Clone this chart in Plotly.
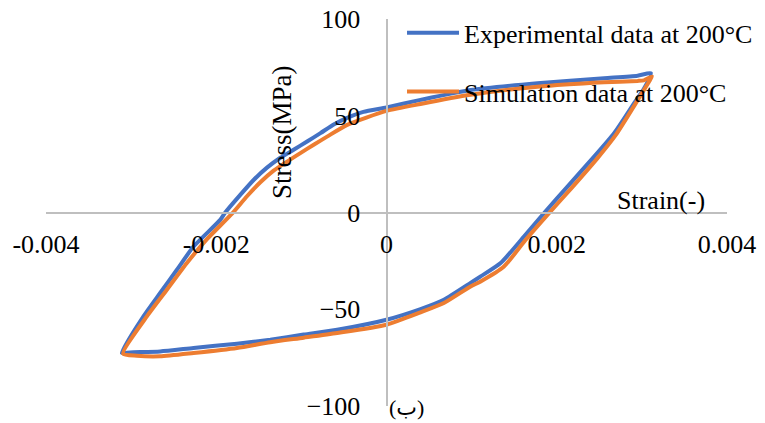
import plotly.graph_objects as go

# experimental loop (strain, stress MPa) - traced clockwise from min corner
exp_strain = [-0.003109, -0.002855, -0.002659, -0.002462, -0.002267, -0.001953, -0.001894,
              -0.001718, -0.001561, -0.001404, -0.001247, -0.001091, -0.000933, -0.000776,
              -0.000620, -0.000462, -0.000271, 0.0, 0.000400, 0.000988, 0.001773,
              0.002556, 0.002949, 0.003106,
              0.003027, 0.002909, 0.002674, 0.002439, 0.002126, 0.001851, 0.001615,
              0.001341, 0.001106, 0.000988, 0.000674, 0.000400, 0.0, -0.000580,
              -0.000973, -0.001365, -0.001756, -0.002267, -0.002659, -0.003012, -0.003109]
exp_stress = [-72.6, -53.7, -41.6, -29.6, -17.6, -3.8, 0.0,
              9.1, 16.8, 23.2, 28.3, 32.4, 36.7, 41.0,
              45.5, 48.9, 52.0, 54.3, 58.2, 63.3, 66.8,
              69.4, 70.7, 72.0,
              64.2, 56.5, 41.0, 28.9, 13.4, -0.3, -12.4,
              -26.1, -33.0, -36.4, -45.1, -49.9, -55.4, -60.6,
              -63.1, -65.7, -67.8, -70.0, -71.8, -72.3, -72.6]

# simulation loop
sim_strain = [-0.003094, -0.002815, -0.002580, -0.002345, -0.002109, -0.001815, -0.001639,
              -0.001482, -0.001326, -0.001168, -0.001012, -0.000855, -0.000698, -0.000462,
              0.0, 0.000400, 0.000988, 0.001773, 0.002556, 0.002949, 0.003024, 0.003118,
              0.003082, 0.002929, 0.002694, 0.002479, 0.002165, 0.001891, 0.001635,
              0.001380, 0.001106, 0.000988, 0.000674, 0.000400, 0.0, -0.000580,
              -0.000973, -0.001365, -0.001756, -0.002267, -0.002659, -0.002933, -0.003094]
sim_stress = [-72.9, -53.7, -39.9, -26.1, -13.8, -0.6, 8.4,
              15.6, 21.6, 26.3, 30.7, 35.0, 39.2, 45.3,
              52.5, 56.1, 60.8, 65.0, 67.3, 68.0, 68.3, 70.3,
              67.5, 56.5, 40.1, 28.1, 12.2, -1.2, -14.1,
              -27.9, -35.6, -38.2, -46.8, -51.6, -58.0, -62.3,
              -64.7, -67.0, -70.0, -72.6, -74.3, -74.0, -72.9]

x_ticks = [-0.004, -0.002, 0, 0.002, 0.004]
x_ticktext = ["-0.004", "-0.002", "0", "0.002", "0.004"]
y_ticks = [-100, -50, 0, 50, 100]

FONT = "Liberation Serif, Times New Roman, serif"
AXIS_GRAY = "#BFBFBF"

fig = go.Figure()
fig.add_trace(go.Scatter(
    x=exp_strain, y=exp_stress, mode="lines", name="Experimental data at 200°C",
    line=dict(color="#4472C4", width=4, shape="spline", smoothing=0.6),
    legendgroup="exp",
))
fig.add_trace(go.Scatter(
    x=sim_strain, y=sim_stress, mode="lines", name="Simulation data at 200°C",
    line=dict(color="#ED7D31", width=4, shape="spline", smoothing=0.6),
    legendgroup="sim",
))

# page body keeps its default 8px margin, so the figure is 8px smaller than the window
fig.update_layout(
    width=757, height=415,
    margin=dict(l=38, r=38, t=11, b=17, autoexpand=False),
    paper_bgcolor="white", plot_bgcolor="white",
    font=dict(family=FONT, size=26, color="black"),
    showlegend=True,
    legend=dict(
        xref="container", yref="container",
        x=0.5205, y=0.997, xanchor="left", yanchor="top",
        bgcolor="rgba(0,0,0,0)", itemwidth=52, tracegroupgap=22,
        font=dict(family=FONT, size=26),
    ),
    xaxis=dict(
        range=[-0.004, 0.004], tickvals=x_ticks, ticktext=x_ticktext,
        anchor="free", position=0.5, showline=True, linecolor=AXIS_GRAY, linewidth=2,
        showgrid=False, zeroline=False, ticks="", ticklabelstandoff=8, automargin=False,
        ticklabeloverflow="allow",
    ),
    yaxis=dict(
        range=[-100, 100], tickvals=y_ticks,
        anchor="free", position=0.5, showline=True, linecolor=AXIS_GRAY, linewidth=2,
        showgrid=False, zeroline=False, ticks="", ticklabelstandoff=20, automargin=False,
        ticklabeloverflow="allow",
    ),
    annotations=[
        dict(text="Stress(MPa)", xref="paper", yref="paper", x=0.3466, y=0.708,
             xanchor="center", yanchor="middle",
             textangle=-90, showarrow=False, font=dict(family=FONT, size=27)),
        dict(text="Strain(-)", xref="paper", yref="paper", x=0.9706, y=0.532,
             xanchor="right", yanchor="middle", showarrow=False, font=dict(family=FONT, size=26)),
        dict(text="(ب)", xref="paper", yref="paper", x=0.530, y=-0.005,
             xanchor="center", yanchor="middle",
             showarrow=False, font=dict(family=FONT + ", DejaVu Sans", size=22)),
    ],
)

fig.write_html("out.html")
